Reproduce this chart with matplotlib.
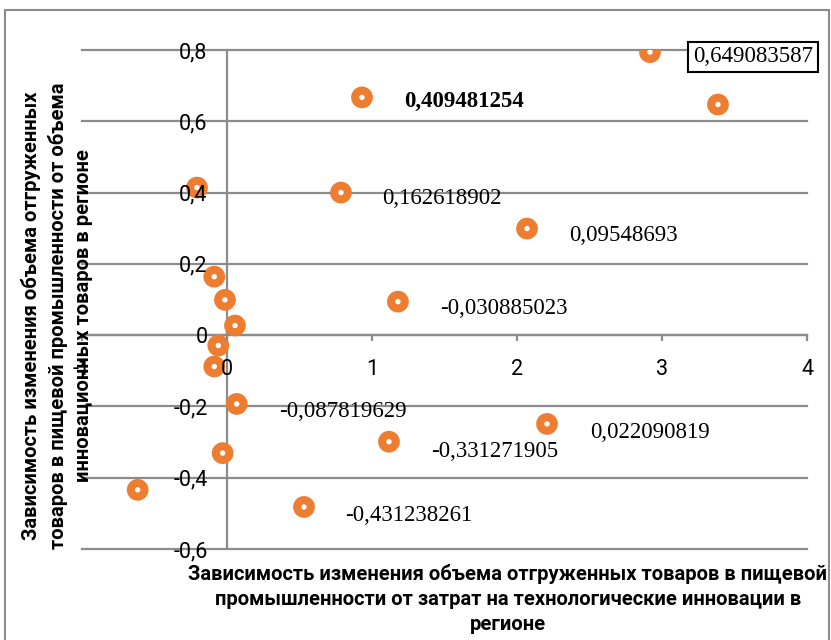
import matplotlib
matplotlib.use("Agg")
import matplotlib.pyplot as plt
from matplotlib.ticker import FuncFormatter, FixedLocator
from matplotlib.patches import Rectangle

# ---- data ----
x_vals = [2.917, 3.386, 0.931, -0.207, 0.786, 2.069, -0.088, -0.014, 0.055,
          -0.060, -0.088, 1.179, 0.067, -0.030, -0.616, 1.117, 2.207, 0.531]
y_vals = [0.794, 0.647, 0.667, 0.414, 0.400, 0.299, 0.164, 0.099, 0.027,
          -0.029, -0.088, 0.094, -0.193, -0.331, -0.434, -0.299, -0.249, -0.482]

label_texts = ["0,649083587", "0,409481254", "0,162618902", "0,09548693",
               "-0,030885023", "-0,087819629", "0,022090819", "-0,331271905",
               "-0,431238261"]

x_ticks = [-1, 0, 1, 2, 3, 4]
y_ticks = [-0.6, -0.4, -0.2, 0, 0.2, 0.4, 0.6, 0.8]

x_title = ("Зависимость изменения объема отгруженных товаров в пищевой\n"
           "промышленности от затрат на технологические инновации в\n"
           "регионе")
y_title = ("Зависимость изменения объема отгруженных\n"
           "товаров в пищевой промышленности от объема\n"
           "инновационных товаров в регионе")

# ---- layout (label anchor positions: left / baseline, in data units) ----
label_x = [3.214, 1.221, 1.069, 2.359, 1.469, 0.359, 2.503, 1.407, 0.814]
label_y = [0.765, 0.640, 0.369, 0.263, 0.058, -0.229, -0.288, -0.341, -0.521]

ORANGE = "#ED7D31"
GRID = "#8c8c8c"
W, H = 831, 640

fig = plt.figure(figsize=(W / 100, H / 100), dpi=100)
fig.patch.set_facecolor("white")
ax = fig.add_axes([82 / W, 1 - 549 / H, (807 - 82) / W, (549 - 50) / H])
ax.set_facecolor("none")
ax.set_xlim(-1, 4)
ax.set_ylim(-0.6, 0.8)

for yt in y_ticks:
    ax.axhline(yt, color=GRID, lw=1.6, zorder=0.5, clip_on=False)

for s in ["top", "right"]:
    ax.spines[s].set_visible(False)
for s in ["left", "bottom"]:
    ax.spines[s].set_position(("data", 0))
    ax.spines[s].set_color(GRID)
    ax.spines[s].set_linewidth(1.6)
    ax.spines[s].set_zorder(1)

tick_family = ["Roboto", "DejaVu Sans"]
ax.xaxis.set_major_locator(FixedLocator(x_ticks))
ax.yaxis.set_major_locator(FixedLocator(y_ticks))
fmt = FuncFormatter(lambda v, p: f"{round(v, 1):g}".replace(".", ","))
ax.xaxis.set_major_formatter(fmt)
ax.yaxis.set_major_formatter(fmt)
ax.tick_params(axis="x", direction="out", length=4.3, width=1.6, color=GRID,
               pad=13)
ax.tick_params(axis="y", length=0, pad=14)
for lab in ax.get_xticklabels() + ax.get_yticklabels():
    lab.set_fontfamily(tick_family)
    lab.set_fontsize(15.5)
ax.xaxis.set_zorder(4)
ax.yaxis.set_zorder(4)

ax.scatter(x_vals, y_vals, s=245, color=ORANGE, edgecolors="none", zorder=3)
ax.scatter(x_vals, y_vals, s=15, color="white", edgecolors="none", zorder=3.1)

serif = ["Liberation Serif", "DejaVu Serif"]
for i, (t, lx, ly) in enumerate(zip(label_texts, label_x, label_y)):
    kw = dict(fontsize=16.5, family=serif, ha="left", va="baseline", zorder=5)
    if i == 0:
        kw["bbox"] = dict(boxstyle="square,pad=0.2", facecolor="white",
                          edgecolor="black", linewidth=1.5)
    if i == 1:
        kw["fontweight"] = "bold"
    ax.text(lx, ly, t, **kw)

title_family = ["Roboto", "DejaVu Sans"]
fig.text(508 / W, 1 - 599 / H, x_title, ha="center", va="center",
         multialignment="center", fontsize=14.5, fontweight="bold",
         family=title_family, linespacing=1.4)
fig.text(57 / W, 1 - 316 / H, y_title, ha="center", va="center",
         rotation=90, multialignment="center", fontsize=14.5,
         fontweight="bold", family=title_family, linespacing=1.42)

fig.add_artist(Rectangle((5 / W, -0.1), (829 - 5) / W, 1 - 10 / H + 0.1,
                         transform=fig.transFigure, fill=False,
                         edgecolor=GRID, linewidth=1.5, zorder=0))

fig.savefig("out.png", dpi=100)
